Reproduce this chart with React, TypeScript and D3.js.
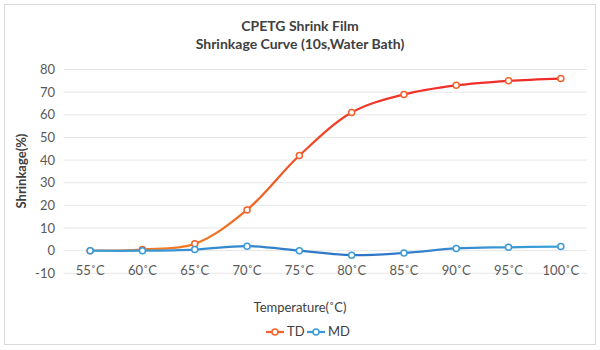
import React, { useEffect, useRef } from "react";
import * as d3 from "d3";

const categories = ["55˚C", "60˚C", "65˚C", "70˚C", "75˚C", "80˚C", "85˚C", "90˚C", "95˚C", "100˚C"];
const tdValues = [0, 0.5, 3, 18, 42, 61, 69, 73, 75, 76];
const mdValues = [0, 0, 0.5, 2, 0, -2, -1, 1, 1.5, 1.8];
const yTicks = [-10, 0, 10, 20, 30, 40, 50, 60, 70, 80];
const seriesNames = ["TD", "MD"];

const colors = { TD: "#f2622a", MD: "#3b9bd8" };
const font = "Lato, 'Open Sans', sans-serif";

const App: React.FC = () => {
  const svgRef = useRef<SVGSVGElement | null>(null);

  useEffect(() => {
    if (!svgRef.current) return;
    const width = 600;
    const height = 350;
    const svg = d3.select(svgRef.current);
    svg.selectAll("*").remove();

    const defs = svg.append("defs");
    // TD line: red at the top, orange lower down
    const tdGrad = defs.append("linearGradient")
      .attr("id", "tdGrad")
      .attr("gradientUnits", "userSpaceOnUse")
      .attr("x1", 0).attr("y1", 70).attr("x2", 0).attr("y2", 250);
    tdGrad.append("stop").attr("offset", "0%").attr("stop-color", "#f0282a");
    tdGrad.append("stop").attr("offset", "100%").attr("stop-color", "#f27a22");
    // MD line: darker blue in the middle
    const mdGrad = defs.append("linearGradient")
      .attr("id", "mdGrad")
      .attr("gradientUnits", "userSpaceOnUse")
      .attr("x1", 90).attr("y1", 0).attr("x2", 561).attr("y2", 0);
    mdGrad.append("stop").attr("offset", "0%").attr("stop-color", "#3ba3d9");
    mdGrad.append("stop").attr("offset", "55%").attr("stop-color", "#2f72c6");
    mdGrad.append("stop").attr("offset", "100%").attr("stop-color", "#3ba3d9");

    svg.append("rect")
      .attr("x", 4.5).attr("y", 4.5)
      .attr("width", 591).attr("height", 340)
      .attr("fill", "#fff")
      .attr("stroke", "#d9d9d9");

    const x = d3.scalePoint<string>().domain(categories).range([64, 587]).padding(0.5);
    const y = d3.scaleLinear().domain([-10, 80]).range([273.3, 69.5]);

    // title
    const title = svg.append("text")
      .attr("text-anchor", "middle")
      .attr("font-family", font)
      .attr("font-weight", "bold")
      .attr("font-size", 14)
      .attr("fill", "#404040");
    title.append("tspan").attr("x", 300).attr("y", 31).text("CPETG Shrink Film");
    title.append("tspan").attr("x", 300).attr("y", 49).text("Shrinkage Curve (10s,Water Bath)");

    // grid + y labels
    const g = svg.append("g");
    g.selectAll(".grid")
      .data(yTicks)
      .join("line")
      .attr("x1", 64).attr("x2", 587)
      .attr("y1", d => y(d)).attr("y2", d => y(d))
      .attr("stroke", "#e6e6e6");
    g.selectAll(".ylab")
      .data(yTicks)
      .join("text")
      .attr("x", 55)
      .attr("y", d => y(d) + 4.5)
      .attr("text-anchor", "end")
      .attr("font-family", font)
      .attr("font-size", 13)
      .attr("fill", "#595959")
      .text(d => d);

    // x labels
    g.selectAll(".xlab")
      .data(categories)
      .join("text")
      .attr("x", d => x(d)!)
      .attr("y", 275)
      .attr("text-anchor", "middle")
      .attr("font-family", font)
      .attr("font-size", 13)
      .attr("fill", "#595959")
      .text(d => d);

    // axis titles
    svg.append("text")
      .attr("transform", "translate(26,171) rotate(-90)")
      .attr("text-anchor", "middle")
      .attr("font-family", font)
      .attr("font-weight", "bold")
      .attr("font-size", 13)
      .attr("fill", "#404040")
      .text("Shrinkage(%)");
    svg.append("text")
      .attr("x", 300).attr("y", 312)
      .attr("text-anchor", "middle")
      .attr("font-family", font)
      .attr("font-size", 13)
      .attr("fill", "#404040")
      .text("Temperature(˚C)");

    const line = d3.line<number>()
      .x((_, i) => x(categories[i])!)
      .y(d => y(d))
      .curve(d3.curveCatmullRom.alpha(0.5));

    const series = [
      { name: "TD", values: tdValues, color: colors.TD, stroke: "url(#tdGrad)" },
      { name: "MD", values: mdValues, color: colors.MD, stroke: "url(#mdGrad)" },
    ];

    series.forEach(s => {
      svg.append("path")
        .attr("d", line(s.values))
        .attr("fill", "none")
        .attr("stroke", s.stroke)
        .attr("stroke-width", 2.25);
      svg.selectAll(`.pt-${s.name}`)
        .data(s.values)
        .join("circle")
        .attr("cx", (_, i) => x(categories[i])!)
        .attr("cy", d => y(d))
        .attr("r", 3)
        .attr("fill", "#fff")
        .attr("stroke", s.color)
        .attr("stroke-width", 1.5);
    });

    // legend
    const legend = svg.append("g").attr("transform", "translate(266,336)");
    seriesNames.forEach((name, i) => {
      const lg = legend.append("g").attr("transform", `translate(${i * 41},0)`);
      const c = colors[name as "TD" | "MD"];
      lg.append("line").attr("x1", 0).attr("x2", 18).attr("y1", -4).attr("y2", -4)
        .attr("stroke", c).attr("stroke-width", 2.25);
      lg.append("circle").attr("cx", 9).attr("cy", -4).attr("r", 3)
        .attr("fill", "#fff").attr("stroke", c).attr("stroke-width", 1.5);
      lg.append("text").attr("x", 21).attr("y", 0)
        .attr("font-family", font).attr("font-size", 13).attr("fill", "#404040")
        .text(name);
    });

    svg.attr("width", width).attr("height", height);
  }, []);

  return (
    <div style={{ position: "absolute", left: 0, top: 0 }}>
      <svg ref={svgRef} width={600} height={350} style={{ display: "block" }}></svg>
    </div>
  );
};

export default App;
